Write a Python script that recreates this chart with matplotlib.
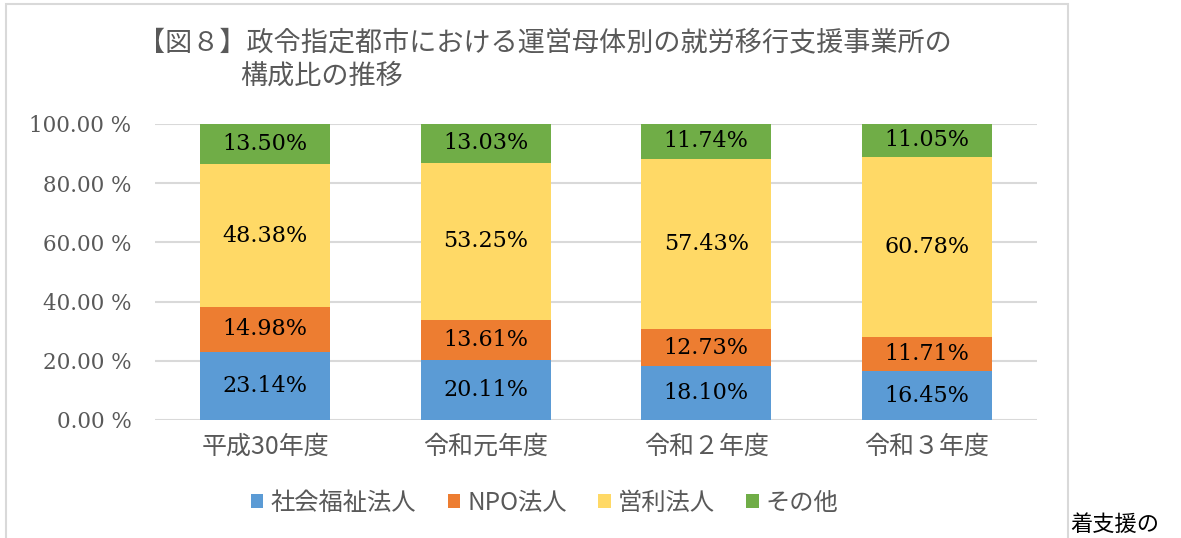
"""Stacked share chart of 就労移行支援事業所 by operator type."""

import matplotlib
matplotlib.use('Agg')
import matplotlib.pyplot as plt
import matplotlib.patches as patches
import numpy as np

plt.rcParams['font.family'] = ['Noto Sans CJK JP', 'DejaVu Sans']

# Data
years = ['平成30年度', '令和元年度', '令和２年度', '令和３年度']
series_names = ['社会福祉法人', 'NPO法人', '営利法人', 'その他']
shakai = [23.14, 20.11, 18.10, 16.45]
npo = [14.98, 13.61, 12.73, 11.71]
eiri = [48.38, 53.25, 57.43, 60.78]
sonota = [13.50, 13.03, 11.74, 11.05]
yticks = [0, 20, 40, 60, 80, 100]

colors = ['#5B9BD5', '#ED7D31', '#FFD966', '#70AD47']
GRAY = '#595959'
W, H = 1181, 538

fig = plt.figure(figsize=(W / 100, H / 100), dpi=100)
fig.patch.set_facecolor('white')

# outer chart frame
frame = patches.Rectangle((6 / W, -0.05), (1068 - 6) / W, 1.05 - 4 / H,
                          transform=fig.transFigure, fill=False,
                          edgecolor='#d9d9d9', linewidth=1.5)
fig.patches.append(frame)

ax = fig.add_axes([155 / W, 118 / H, (1037 - 155) / W, 296 / H])
x = np.arange(len(years))
bottom = np.zeros(len(years))
for vals, name, c in zip([shakai, npo, eiri, sonota], series_names, colors):
    bars = ax.bar(x, vals, width=0.59, bottom=bottom, color=c, label=name,
                  zorder=3)
    for xi, b, v in zip(x, bottom, vals):
        ax.text(xi, b + v / 2, f'{v:.2f}%', ha='center', va='center',
                fontsize=16, color='black', family='DejaVu Serif', zorder=4)
    bottom += np.array(vals)

ax.set_xlim(-0.5, len(years) - 0.5)
ax.set_ylim(0, 100)
ax.set_yticks(yticks)
ax.set_yticklabels([f'{t:.2f} %' for t in yticks], family='DejaVu Serif',
                   fontsize=15.5, color=GRAY)
ax.set_xticks(x)
ax.set_xticklabels(years, fontsize=18, color=GRAY)
ax.tick_params(axis='both', length=0)
ax.tick_params(axis='y', pad=17)
ax.tick_params(axis='x', pad=10)
ax.grid(axis='y', color='#d9d9d9', linewidth=1.5, zorder=0)
ax.set_axisbelow(True)
for s in ax.spines.values():
    s.set_visible(False)
ax.set_facecolor('none')

# Legend
leg = fig.legend(loc='center', bbox_to_anchor=(545 / W, 1 - 503 / H), ncol=4,
                 frameon=False, fontsize=17.5, handlelength=0.5,
                 handleheight=0.5, handletextpad=0.3, columnspacing=1.3)
for t in leg.get_texts():
    t.set_color(GRAY)

# Title
fig.text(138 / W, 1 - 43 / H, '【図８】政令指定都市における運営母体別の就労移行支援事業所の',
         ha='left', va='center', fontsize=19.5, color=GRAY)
fig.text(240 / W, 1 - 76 / H, '構成比の推移', ha='left', va='center',
         fontsize=19.5, color=GRAY)

# fragment of surrounding document text
fig.text(1070 / W, 1 - 524 / H, '着支援の', ha='left', va='center',
         fontsize=16, color='black')

fig.savefig('out.png', dpi=100, facecolor='white')
